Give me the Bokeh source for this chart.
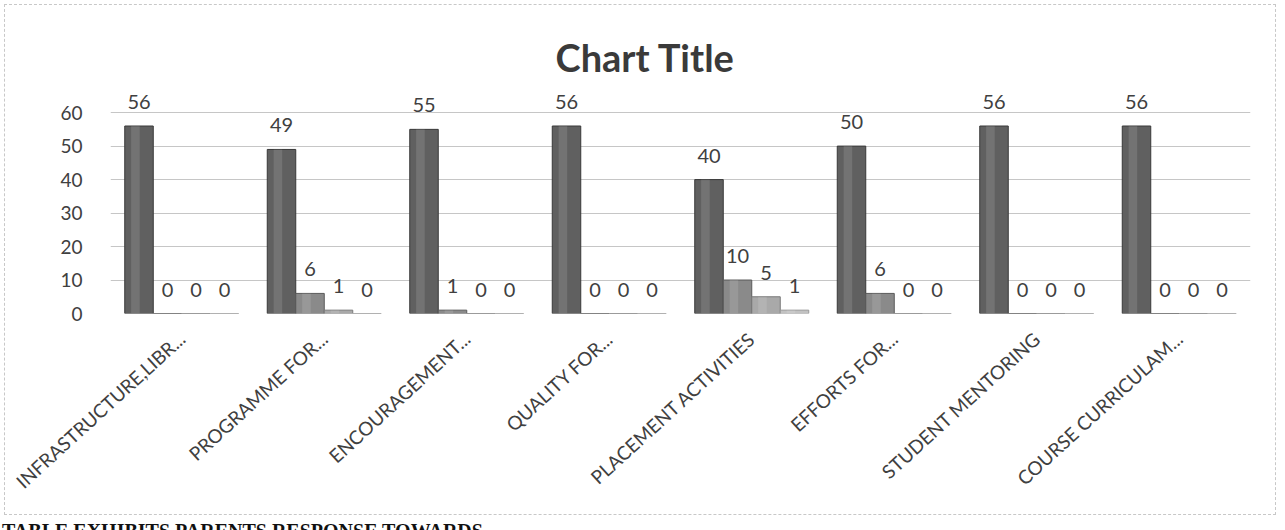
import math
from bokeh.plotting import figure
from bokeh.models import ColumnDataSource, FactorRange, Range1d, FixedTicker, Div
from bokeh.layouts import column
from bokeh.transform import dodge
from bokeh.core.properties import value
from bokeh.embed import file_html
from bokeh.resources import INLINE

categories = [
    "INFRASTRUCTURE,LIBR...",
    "PROGRAMME FOR...",
    "ENCOURAGEMENT...",
    "QUALITY FOR...",
    "PLACEMENT ACTIVITIES",
    "EFFORTS FOR...",
    "STUDENT MENTORING",
    "COURSE CURRICULAM...",
]
series1 = [56, 49, 55, 56, 40, 50, 56, 56]
series2 = [0, 6, 1, 0, 10, 6, 0, 0]
series3 = [0, 1, 0, 0, 5, 0, 0, 0]
series4 = [0, 0, 0, 0, 1, 0, 0, 0]
y_ticks = [0, 10, 20, 30, 40, 50, 60]
chart_title = "Chart Title"
caption = "TABLE EXHIBITS PARENTS RESPONSE TOWARDS"

series = [series1, series2, series3, series4]
colors = ["#606060", "#8a8a8a", "#a9a9a9", "#c2c2c2"]
edges = ["#383838", "#5a5a5a", "#7a7a7a", "#989898"]
offsets = [-0.3, -0.1, 0.1, 0.3]

data = dict(cat=categories)
for i, s in enumerate(series):
    data[f"s{i}"] = s
    data[f"t{i}"] = [str(v) for v in s]
source = ColumnDataSource(data)

FONT = "Lato"
TXT = "#404040"

p = figure(
    x_range=FactorRange(*categories, range_padding=0),
    y_range=Range1d(0, 68.4),
    width=1272, height=511,
    output_backend="svg", toolbar_location=None,
    min_border_left=105, min_border_right=27,
    min_border_top=79, min_border_bottom=203,
    title=chart_title,
)
p.margin = (4, 4, 4, 4)
p.styles = {"border": "1px dashed #c8c8c8"}
p.outline_line_color = None
p.background_fill_color = "white"
p.border_fill_color = "white"

p.title.align = "left"
p.title.offset = 445
p.title.standoff = 10
p.title.text_font = FONT
p.title.text_font_size = "38px"
p.title.text_font_style = "bold"
p.title.text_color = "#3a3a3a"

for i in range(4):
    p.vbar(x=dodge("cat", offsets[i], range=p.x_range), top=f"s{i}", bottom=0,
           width=0.2, source=source, fill_color=colors[i], line_color=edges[i],
           line_width=1)
    # subtle highlight to suggest the rounded 3D column
    p.vbar(x=dodge("cat", offsets[i] - 0.025, range=p.x_range), top=f"s{i}", bottom=0,
           width=0.06, source=source, fill_color="white", fill_alpha=0.12,
           line_color=None)
    p.text(x=dodge("cat", offsets[i], range=p.x_range), y=f"s{i}", text=f"t{i}",
           source=source, text_align="center", text_baseline="middle",
           y_offset=-24, text_font=value(FONT), text_font_size="20px",
           text_color=TXT)

p.yaxis.ticker = FixedTicker(ticks=y_ticks)
p.yaxis.axis_line_color = None
p.yaxis.major_tick_line_color = None
p.yaxis.minor_tick_line_color = None
p.yaxis.major_label_standoff = 22
p.yaxis.major_label_text_font = FONT
p.yaxis.major_label_text_font_size = "19px"
p.yaxis.major_label_text_color = TXT

p.xaxis.axis_line_color = None
p.xaxis.major_tick_line_color = None
p.xaxis.major_label_orientation = 0.74
p.xaxis.major_label_standoff = 16
p.xaxis.major_label_text_font = FONT
p.xaxis.major_label_text_font_size = "19px"
p.xaxis.major_label_text_color = TXT

p.xgrid.grid_line_color = None
p.ygrid.grid_line_color = "#c6c6c6"
p.ygrid.grid_line_width = 1

cap = Div(text=caption, width=1280, height=10,
          styles={"font-family": "Liberation Serif", "font-weight": "bold",
                  "font-size": "20px", "line-height": "20px", "color": "#111111",
                  "margin-top": "2px", "margin-left": "2px", "white-space": "nowrap"})

layout = column(p, cap, spacing=0)
open("out.html", "w").write(file_html(layout, INLINE))
